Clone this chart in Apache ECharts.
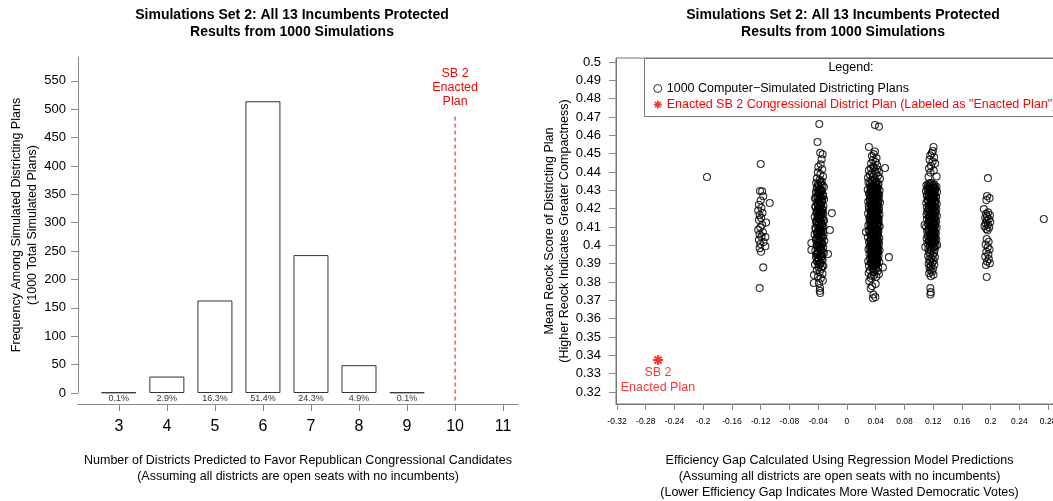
<!DOCTYPE html>
<html>
<head>
<meta charset="utf-8">
<script src="https://cdn.jsdelivr.net/npm/echarts@6/dist/echarts.min.js"></script>
<style>html,body{margin:0;padding:0;background:#fff;}#chart{width:1053px;height:501px;}</style>
</head>
<body>
<div id="chart"></div>
<script>
// ---------- Left panel data ----------
const seatCategories = [3, 4, 5, 6, 7, 8, 9];
const seatCounts = [1, 29, 163, 514, 243, 49, 1];
const totalPlans = 1000;
const seatTicks = [3, 4, 5, 6, 7, 8, 9, 10, 11];
const freqTicks = [0, 50, 100, 150, 200, 250, 300, 350, 400, 450, 500, 550];
const enactedSeats = 10;
const enactedLineSpan = [487, -20];

// ---------- Right panel data ----------
const egTicks = [-0.32, -0.28, -0.24, -0.2, -0.16, -0.12, -0.08, -0.04, 0, 0.04, 0.08, 0.12, 0.16, 0.2, 0.24, 0.28];
const reockTicks = [0.32, 0.33, 0.34, 0.35, 0.36, 0.37, 0.38, 0.39, 0.4, 0.41, 0.42, 0.43, 0.44, 0.45, 0.46, 0.47, 0.48, 0.49, 0.5];
const enactedPoint = [-0.263, 0.3375];

const sims3 = [[-0.1948, 0.4373]];
const sims9 = [[0.274, 0.4144]];
const sims4 = [[-0.1200,0.4444],[-0.1210,0.4297],[-0.1180,0.4295],[-0.1165,0.4268],[-0.1075,0.4231],[-0.1200,0.4245],[-0.1225,0.4222],[-0.1190,0.4205],[-0.1235,0.4190],[-0.1175,0.4178],[-0.1215,0.4165],[-0.1125,0.4125],[-0.1195,0.4150],[-0.1225,0.4138],[-0.1180,0.4112],[-0.1205,0.4098],[-0.1235,0.4085],[-0.1170,0.4072],[-0.1215,0.4060],[-0.1190,0.4048],[-0.1135,0.4046],[-0.1225,0.4030],[-0.1160,0.4018],[-0.1205,0.4008],[-0.1135,0.3995],[-0.1215,0.3985],[-0.1195,0.3965],[-0.1165,0.3880],[-0.1215,0.3767]];
const sims5 = [[-0.0385,0.4662],[-0.0410,0.4564],[-0.0372,0.4505],[-0.0338,0.4497],[-0.0352,0.4470],[-0.0366,0.4442],[-0.0398,0.4428],[-0.0344,0.4415],[-0.0405,0.4398],[-0.0370,0.4388],[-0.0332,0.4376],[-0.0418,0.4366],[-0.0380,0.4357],[-0.0352,0.4349],[-0.0428,0.4340],[-0.0362,0.4333],[-0.0395,0.4325],[-0.0320,0.4318],[-0.0410,0.4310],[-0.0376,0.4303],[-0.0348,0.4296],[-0.0432,0.4289],[-0.0390,0.4282],[-0.0334,0.4276],[-0.0404,0.4270],[-0.0362,0.4263],[-0.0446,0.4257],[-0.0318,0.4251],[-0.0384,0.4245],[-0.0352,0.4239],[-0.0420,0.4233],[-0.0368,0.4227],[-0.0398,0.4221],[-0.0328,0.4215],[-0.0440,0.4209],[-0.0376,0.4204],[-0.0345,0.4199],[-0.0412,0.4193],[-0.0210,0.4176],[-0.0385,0.4188],[-0.0356,0.4183],[-0.0425,0.4178],[-0.0330,0.4172],[-0.0395,0.4167],[-0.0366,0.4162],[-0.0448,0.4156],[-0.0340,0.4151],[-0.0408,0.4146],[-0.0378,0.4141],[-0.0318,0.4136],[-0.0430,0.4131],[-0.0360,0.4126],[-0.0392,0.4121],[-0.0346,0.4116],[-0.0416,0.4111],[-0.0374,0.4106],[-0.0326,0.4101],[-0.0440,0.4096],[-0.0385,0.4091],[-0.0237,0.4084],[-0.0355,0.4086],[-0.0402,0.4080],[-0.0336,0.4075],[-0.0420,0.4070],[-0.0368,0.4065],[-0.0450,0.4060],[-0.0325,0.4055],[-0.0390,0.4050],[-0.0350,0.4045],[-0.0412,0.4040],[-0.0378,0.4035],[-0.0432,0.4030],[-0.0315,0.4025],[-0.0495,0.4013],[-0.0362,0.4020],[-0.0398,0.4014],[-0.0340,0.4008],[-0.0422,0.4002],[-0.0372,0.3996],[-0.0495,0.3975],[-0.0330,0.3990],[-0.0405,0.3984],[-0.0355,0.3978],[-0.0440,0.3972],[-0.0385,0.3966],[-0.0320,0.3960],[-0.0264,0.3953],[-0.0415,0.3954],[-0.0366,0.3948],[-0.0348,0.3941],[-0.0430,0.3934],[-0.0392,0.3927],[-0.0338,0.3920],[-0.0410,0.3912],[-0.0372,0.3904],[-0.0445,0.3896],[-0.0328,0.3888],[-0.0395,0.3880],[-0.0358,0.3872],[-0.0420,0.3864],[-0.0378,0.3855],[-0.0340,0.3846],[-0.0460,0.3838],[-0.0402,0.3830],[-0.0365,0.3820],[-0.0335,0.3808],[-0.0462,0.3795],[-0.0390,0.3795],[-0.0375,0.3768],[-0.0378,0.3752],[-0.0372,0.3740],
[-0.0366,0.4345],[-0.0402,0.4335],[-0.0340,0.4326],[-0.0420,0.4316],[-0.0380,0.4306],[-0.0356,0.4297],[-0.0412,0.4287],[-0.0372,0.4278],[-0.0330,0.4268],[-0.0430,0.4258],[-0.0390,0.4249],[-0.0348,0.4240],[-0.0404,0.4230],[-0.0364,0.4221],[-0.0436,0.4212],[-0.0384,0.4202],[-0.0336,0.4193],[-0.0418,0.4184],[-0.0374,0.4175],[-0.0350,0.4165],[-0.0410,0.4156],[-0.0388,0.4147],[-0.0328,0.4138],[-0.0424,0.4128],[-0.0368,0.4119],[-0.0400,0.4110],[-0.0342,0.4100],[-0.0434,0.4091],[-0.0378,0.4082],[-0.0358,0.4072],[-0.0414,0.4063],[-0.0386,0.4054],[-0.0334,0.4044],[-0.0426,0.4035],[-0.0370,0.4026],[-0.0396,0.4016],[-0.0346,0.4007],[-0.0416,0.3998],[-0.0380,0.3988],[-0.0360,0.3979],[-0.0408,0.3970],[-0.0338,0.3961],[-0.0428,0.3951],[-0.0376,0.3942],[-0.0400,0.3933],[-0.0352,0.3923],[-0.0418,0.3914],[-0.0370,0.3905],[-0.0392,0.3895],[-0.0344,0.3886],
[-0.0358,0.4302],[-0.0396,0.4292],[-0.0374,0.4272],[-0.0410,0.4262],[-0.0344,0.4252],[-0.0388,0.4236],[-0.0360,0.4218],[-0.0404,0.4198],[-0.0350,0.4180],[-0.0392,0.4160],[-0.0366,0.4142],[-0.0420,0.4124],[-0.0354,0.4106],[-0.0384,0.4088],[-0.0406,0.4068],[-0.0362,0.4050],[-0.0396,0.4030],[-0.0348,0.4012],[-0.0388,0.3994],[-0.0366,0.3974],[-0.0408,0.3956],[-0.0356,0.3938],[-0.0390,0.3918],[-0.0370,0.3900]];
const sims6 = [[0.0390,0.4657],[0.0445,0.4648],[0.0306,0.4537],[0.0390,0.4512],[0.0372,0.4498],[0.0348,0.4487],[0.0412,0.4476],[0.0362,0.4466],[0.0398,0.4455],[0.0530,0.4422],[0.0335,0.4446],[0.0420,0.4437],[0.0368,0.4430],
[0.0376,0.4424],[0.0334,0.4419],[0.0418,0.4414],[0.0306,0.4409],[0.0390,0.4404],[0.0446,0.4399],[0.0348,0.4394],[0.0404,0.4389],[0.0320,0.4384],[0.0432,0.4379],[0.0362,0.4374],[0.0293,0.4369],[0.0459,0.4364],[0.0380,0.4359],[0.0340,0.4354],[0.0412,0.4349],[0.0300,0.4344],[0.0395,0.4339],[0.0440,0.4334],[0.0352,0.4329],[0.0408,0.4324],[0.0325,0.4319],[0.0428,0.4314],[0.0366,0.4309],[0.0290,0.4304],[0.0455,0.4299],[0.0384,0.4294],[0.0338,0.4289],[0.0420,0.4284],[0.0310,0.4279],[0.0398,0.4274],[0.0448,0.4269],[0.0356,0.4264],[0.0402,0.4259],[0.0318,0.4254],[0.0436,0.4249],[0.0370,0.4244],[0.0296,0.4239],[0.0460,0.4234],[0.0378,0.4229],[0.0344,0.4224],[0.0414,0.4219],[0.0304,0.4214],[0.0392,0.4209],[0.0442,0.4204],[0.0350,0.4199],[0.0406,0.4194],[0.0328,0.4189],[0.0426,0.4184],[0.0364,0.4179],[0.0294,0.4174],[0.0452,0.4169],[0.0386,0.4164],[0.0336,0.4159],[0.0422,0.4154],[0.0312,0.4149],[0.0396,0.4144],[0.0444,0.4139],[0.0358,0.4134],[0.0400,0.4129],[0.0322,0.4124],[0.0434,0.4119],[0.0372,0.4114],[0.0298,0.4109],[0.0456,0.4104],[0.0382,0.4099],[0.0346,0.4094],[0.0416,0.4089],[0.0302,0.4084],[0.0264,0.4073],[0.0390,0.4079],[0.0438,0.4074],[0.0354,0.4069],[0.0410,0.4064],[0.0326,0.4059],[0.0430,0.4054],[0.0368,0.4049],[0.0292,0.4044],[0.0450,0.4039],[0.0380,0.4034],[0.0342,0.4029],[0.0418,0.4024],[0.0308,0.4019],[0.0394,0.4014],[0.0446,0.4009],[0.0360,0.4004],[0.0404,0.3999],[0.0316,0.3994],[0.0432,0.3989],[0.0374,0.3984],[0.0300,0.3979],[0.0454,0.3974],[0.0388,0.3969],[0.0338,0.3964],[0.0424,0.3959],[0.0314,0.3954],[0.0398,0.3949],[0.0440,0.3944],[0.0584,0.3936],[0.0352,0.3939],[0.0406,0.3934],[0.0324,0.3929],[0.0428,0.3924],[0.0366,0.3919],[0.0296,0.3914],[0.0450,0.3909],[0.0384,0.3904],[0.0344,0.3899],[0.0414,0.3894],[0.0306,0.3889],[0.0501,0.3880],[0.0392,0.3884],[0.0436,0.3879],[0.0356,0.3874],[0.0402,0.3869],[0.0320,0.3864],[0.0426,0.3859],[0.0370,0.3854],[0.0302,0.3849],[0.0446,0.3844],[0.0380,0.3839],[0.0340,0.3834],[0.0410,0.3829],[0.0330,0.3822],
[0.0310,0.3805],[0.0400,0.3790],[0.0350,0.3778],[0.0330,0.3765],[0.0368,0.3732],[0.0395,0.3718],[0.0362,0.3712],
[0.0352,0.4348],[0.0398,0.4343],[0.0320,0.4336],[0.0428,0.4331],[0.0372,0.4326],[0.0340,0.4321],[0.0410,0.4316],[0.0385,0.4311],[0.0330,0.4306],[0.0418,0.4301],[0.0360,0.4296],[0.0395,0.4291],[0.0312,0.4286],[0.0440,0.4281],[0.0368,0.4276],[0.0388,0.4271],[0.0330,0.4266],[0.0424,0.4261],[0.0376,0.4256],[0.0350,0.4251],[0.0414,0.4246],[0.0392,0.4241],[0.0322,0.4236],[0.0432,0.4231],[0.0362,0.4226],[0.0400,0.4221],[0.0338,0.4216],[0.0420,0.4211],[0.0374,0.4206],[0.0310,0.4201],[0.0446,0.4196],[0.0382,0.4191],[0.0346,0.4186],[0.0408,0.4181],[0.0368,0.4176],[0.0330,0.4171],[0.0416,0.4166],[0.0390,0.4161],[0.0356,0.4156],[0.0436,0.4151],[0.0376,0.4146],[0.0318,0.4141],[0.0404,0.4136],[0.0384,0.4131],[0.0342,0.4126],[0.0424,0.4121],[0.0366,0.4116],[0.0398,0.4111],[0.0326,0.4106],[0.0440,0.4101],[0.0372,0.4096],[0.0350,0.4091],[0.0412,0.4086],[0.0388,0.4081],[0.0316,0.4076],[0.0428,0.4071],[0.0362,0.4066],[0.0396,0.4061],[0.0336,0.4056],[0.0420,0.4051],[0.0378,0.4046],[0.0354,0.4041],[0.0406,0.4036],[0.0386,0.4031],[0.0324,0.4026],[0.0438,0.4021],[0.0370,0.4016],[0.0402,0.4011],[0.0340,0.4006],[0.0418,0.4001],[0.0380,0.3996],[0.0346,0.3991],[0.0410,0.3986],[0.0362,0.3981],[0.0328,0.3976],[0.0430,0.3971],[0.0376,0.3966],[0.0398,0.3961],[0.0352,0.3956],[0.0416,0.3951],[0.0370,0.3946],[0.0336,0.3941],[0.0404,0.3936],[0.0384,0.3931],[0.0348,0.3926],[0.0420,0.3921],[0.0374,0.3916],[0.0394,0.3911],[0.0330,0.3906],[0.0412,0.3901],[0.0366,0.3896],[0.0390,0.3891],[0.0356,0.3886],
[0.0358,0.4322],[0.0402,0.4317],[0.0336,0.4312],[0.0424,0.4307],[0.0380,0.4302],[0.0346,0.4297],[0.0412,0.4292],[0.0370,0.4287],[0.0330,0.4282],[0.0434,0.4277],[0.0388,0.4272],[0.0354,0.4267],[0.0418,0.4262],[0.0364,0.4257],[0.0398,0.4252],[0.0326,0.4247],[0.0440,0.4242],[0.0384,0.4237],[0.0348,0.4232],[0.0408,0.4227],[0.0372,0.4222],[0.0334,0.4217],[0.0428,0.4212],[0.0392,0.4207],[0.0358,0.4202],[0.0416,0.4197],[0.0376,0.4192],[0.0342,0.4187],[0.0432,0.4182],[0.0396,0.4177],[0.0352,0.4172],[0.0410,0.4167],[0.0368,0.4162],[0.0328,0.4157],[0.0426,0.4152],[0.0386,0.4147],[0.0344,0.4142],[0.0414,0.4137],[0.0378,0.4132],[0.0338,0.4127],[0.0436,0.4122],[0.0394,0.4117],[0.0356,0.4112],[0.0420,0.4107],[0.0366,0.4102],[0.0404,0.4097],[0.0332,0.4092],[0.0430,0.4087],[0.0382,0.4082],[0.0348,0.4077],[0.0412,0.4072],[0.0374,0.4067],[0.0340,0.4062],[0.0424,0.4057],[0.0390,0.4052],[0.0358,0.4047],[0.0416,0.4042],[0.0370,0.4037],[0.0334,0.4032],[0.0432,0.4027],[0.0398,0.4022],[0.0352,0.4017],[0.0408,0.4012],[0.0378,0.4007],[0.0330,0.4002],[0.0426,0.3997],[0.0388,0.3992],[0.0356,0.3987],[0.0418,0.3982],[0.0364,0.3977],[0.0400,0.3972],[0.0338,0.3967],[0.0434,0.3962],[0.0382,0.3957],[0.0346,0.3952],[0.0410,0.3947],[0.0372,0.3942],[0.0342,0.3937],[0.0422,0.3932],[0.0392,0.3927],[0.0360,0.3922],[0.0406,0.3917],[0.0378,0.3912],[0.0338,0.3907],[0.0414,0.3902],[0.0386,0.3897],[0.0354,0.3892]];
const sims7 = [[0.1205,0.4537],[0.1196,0.4515],[0.1182,0.4503],[0.1160,0.4491],[0.1214,0.4480],[0.1150,0.4467],[0.1192,0.4457],[0.1228,0.4446],[0.1170,0.4434],[0.1142,0.4420],[0.1208,0.4408],[0.1162,0.4397],[0.1248,0.4376],[0.1136,0.4374],
[0.1176,0.4340],[0.1134,0.4336],[0.1218,0.4332],[0.1106,0.4328],[0.1190,0.4324],[0.1246,0.4320],[0.1148,0.4316],[0.1204,0.4312],[0.1120,0.4308],[0.1232,0.4304],[0.1162,0.4300],[0.1100,0.4296],[0.1254,0.4292],[0.1180,0.4287],[0.1140,0.4282],[0.1212,0.4277],[0.1110,0.4272],[0.1195,0.4267],[0.1240,0.4262],[0.1152,0.4257],[0.1208,0.4252],[0.1125,0.4247],[0.1228,0.4242],[0.1166,0.4237],[0.1104,0.4232],[0.1250,0.4227],[0.1184,0.4222],[0.1138,0.4217],[0.1220,0.4212],[0.1112,0.4207],[0.1198,0.4202],[0.1244,0.4197],[0.1156,0.4192],[0.1202,0.4187],[0.1118,0.4182],[0.1236,0.4177],[0.1170,0.4172],[0.1108,0.4167],[0.1252,0.4162],[0.1178,0.4157],[0.1144,0.4152],[0.1214,0.4147],[0.1114,0.4142],[0.1192,0.4137],[0.1242,0.4132],[0.1150,0.4127],[0.1206,0.4122],[0.1128,0.4117],[0.1080,0.4111],[0.1226,0.4112],[0.1164,0.4107],[0.1102,0.4102],[0.1248,0.4097],[0.1186,0.4092],[0.1136,0.4087],[0.1216,0.4082],[0.1116,0.4077],[0.1196,0.4072],[0.1238,0.4067],[0.1158,0.4062],[0.1200,0.4057],[0.1124,0.4052],[0.1230,0.4047],[0.1172,0.4042],[0.1110,0.4037],[0.1244,0.4032],[0.1182,0.4027],[0.1146,0.4022],[0.1210,0.4017],[0.1120,0.4012],[0.1255,0.4002],[0.1188,0.4007],[0.1090,0.3991],[0.1234,0.3997],[0.1154,0.3992],[0.1204,0.3987],[0.1132,0.3982],[0.1222,0.3977],[0.1168,0.3972],[0.1140,0.3966],[0.1212,0.3960],[0.1160,0.3954],[0.1196,0.3948],[0.1130,0.3942],[0.1224,0.3936],[0.1176,0.3930],[0.1146,0.3924],[0.1206,0.3918],[0.1158,0.3912],[0.1190,0.3906],[0.1138,0.3900],[0.1216,0.3894],[0.1170,0.3888],[0.1150,0.3880],[0.1198,0.3872],[0.1162,0.3864],[0.1184,0.3856],[0.1144,0.3848],[0.1204,0.3840],[0.1168,0.3832],
[0.1160,0.3767],[0.1166,0.3745],[0.1162,0.3732],
[0.1162,0.4338],[0.1200,0.4330],[0.1128,0.4322],[0.1226,0.4314],[0.1172,0.4306],[0.1144,0.4298],[0.1210,0.4290],[0.1186,0.4282],[0.1122,0.4274],[0.1236,0.4266],[0.1160,0.4258],[0.1196,0.4250],[0.1134,0.4242],[0.1214,0.4234],[0.1174,0.4226],[0.1150,0.4218],[0.1230,0.4210],[0.1188,0.4202],[0.1130,0.4194],[0.1218,0.4186],[0.1166,0.4178],[0.1200,0.4170],[0.1142,0.4162],[0.1224,0.4154],[0.1180,0.4146],[0.1156,0.4138],[0.1210,0.4130],[0.1190,0.4122],[0.1136,0.4114],[0.1228,0.4106],[0.1168,0.4098],[0.1202,0.4090],[0.1148,0.4082],[0.1220,0.4074],[0.1178,0.4066],[0.1160,0.4058],[0.1212,0.4050],[0.1192,0.4042],[0.1140,0.4034],[0.1226,0.4026],[0.1172,0.4018],[0.1198,0.4010],[0.1152,0.4002],[0.1216,0.3994],[0.1182,0.3986],
[0.1154,0.4326],[0.1206,0.4318],[0.1176,0.4310],[0.1132,0.4302],[0.1222,0.4294],[0.1168,0.4286],[0.1196,0.4278],[0.1144,0.4270],[0.1214,0.4262],[0.1182,0.4254],[0.1126,0.4246],[0.1232,0.4238],[0.1162,0.4230],[0.1192,0.4222],[0.1148,0.4214],[0.1208,0.4206],[0.1178,0.4198],[0.1136,0.4190],[0.1226,0.4182],[0.1170,0.4174],[0.1204,0.4166],[0.1156,0.4158],[0.1218,0.4150],[0.1186,0.4142],[0.1140,0.4134],[0.1230,0.4126],[0.1164,0.4118],[0.1198,0.4110],[0.1152,0.4102],[0.1212,0.4094],[0.1180,0.4086],[0.1134,0.4078],[0.1222,0.4070],[0.1168,0.4062],[0.1194,0.4054],[0.1150,0.4046],[0.1206,0.4038],[0.1184,0.4030],[0.1142,0.4022],[0.1218,0.4014]];
const sims8 = [[0.1962,0.4367],[0.1950,0.4269],[0.1985,0.4258],[0.1940,0.4247],[0.1905,0.4198],[0.1965,0.4180],[0.1935,0.4172],[0.1990,0.4165],[0.1950,0.4158],[0.1925,0.4150],[0.1975,0.4143],[0.1945,0.4135],[0.1995,0.4128],[0.1930,0.4120],[0.1962,0.4112],[0.1915,0.4105],[0.1980,0.4098],[0.1940,0.4090],[0.1958,0.4082],[0.1945,0.4035],[0.1972,0.4020],[0.1930,0.4005],[0.1960,0.3990],[0.1985,0.3978],[0.1940,0.3965],[0.1968,0.3950],[0.1925,0.3938],[0.1975,0.3925],[0.1950,0.3912],[0.1990,0.3903],[0.1935,0.3893],[0.1945,0.3828]];

const simName = '1000 Computer\u2212Simulated Districting Plans';
const enactedName = 'Enacted SB 2 Congressional District Plan (Labeled as "Enacted Plan")';
const titleText = 'Simulations Set 2: All 13 Incumbents Protected\nResults from 1000 Simulations';

const FONT = '"Liberation Sans", Arial, sans-serif';
const AXIS = '#8a8a8a';
const RED = '#ff0000';
const starPath = 'path://M5,0L5,10M0,5L10,5M1.5,1.5L8.5,8.5M1.5,8.5L8.5,1.5';

const fmt = v => String(+Number(v).toFixed(2));

const chart = echarts.init(document.getElementById('chart'), null, {renderer: 'canvas'});
chart.setOption({
  animation: false,
  backgroundColor: '#fff',
  textStyle: {fontFamily: FONT},
  title: [
    {text: titleText, left: 287, top: 2, textAlign: 'center',
     textStyle: {fontFamily: FONT, fontSize: 14, fontWeight: 'bold', lineHeight: 17, color: '#000'}},
    {text: titleText, left: 838, top: 2, textAlign: 'center',
     textStyle: {fontFamily: FONT, fontSize: 14, fontWeight: 'bold', lineHeight: 17, color: '#000'}}
  ],
  grid: [
    {left: 78, top: 57, width: 440, height: 336, show: false, outerBoundsMode: 'none', containLabel: false},
    {left: 616, top: 58, width: 447, height: 346, show: true, borderColor: '#777', borderWidth: 1,
     backgroundColor: 'transparent', outerBoundsMode: 'none', containLabel: false}
  ],
  legend: {
    orient: 'vertical', left: 653, top: 82, padding: 0, itemWidth: 8, itemHeight: 8, itemGap: 3,
    selectedMode: false,
    textStyle: {fontFamily: FONT, fontSize: 12.5, color: '#000'},
    data: [
      {name: simName, icon: 'circle', itemStyle: {color: 'rgba(0,0,0,0)', borderColor: '#000', borderWidth: 1}},
      {name: enactedName, icon: starPath, itemStyle: {color: 'rgba(0,0,0,0)', borderColor: RED, borderWidth: 1.5}, textStyle: {color: RED}}
    ]
  },
  graphic: [
    {type: 'rect', shape: {x: 644.5, y: 58.5, width: 420, height: 58}, style: {fill: 'none', stroke: '#777', lineWidth: 1}, z: 1},
    {type: 'text', x: 851, y: 68, style: {text: 'Legend:', fontFamily: FONT, fontSize: 12.5, fill: '#000', align: 'center', verticalAlign: 'middle'}}
  ],
  xAxis: [
    {gridIndex: 0, type: 'value', min: 2.15, max: 11.31, offset: 11,
     name: 'Number of Districts Predicted to Favor Republican Congressional Candidates\n(Assuming all districts are open seats with no incumbents)',
     nameLocation: 'middle', nameGap: 49,
     nameTextStyle: {fontFamily: FONT, fontSize: 12.5, lineHeight: 16, color: '#000'},
     axisLine: {show: true, onZero: false, lineStyle: {color: AXIS, width: 1}},
     axisTick: {show: true, length: 7, lineStyle: {color: AXIS}, customValues: seatTicks},
     axisLabel: {show: true, margin: 15, fontSize: 16, color: '#000', fontFamily: FONT, customValues: seatTicks},
     splitLine: {show: false}},
    {gridIndex: 1, type: 'value', min: -0.3214, max: 0.3007,
     name: 'Efficiency Gap Calculated Using Regression Model Predictions\n(Assuming all districts are open seats with no incumbents)\n(Lower Efficiency Gap Indicates More Wasted Democratic Votes)',
     nameLocation: 'middle', nameGap: 49,
     nameTextStyle: {fontFamily: FONT, fontSize: 12.5, lineHeight: 16, color: '#000'},
     axisLine: {show: true, onZero: false, lineStyle: {color: '#777', width: 1}},
     axisTick: {show: true, length: 6, lineStyle: {color: AXIS}, customValues: egTicks},
     axisLabel: {show: true, margin: 13, fontSize: 8.5, color: '#000', fontFamily: FONT, customValues: egTicks, formatter: fmt},
     splitLine: {show: false}}
  ],
  yAxis: [
    {gridIndex: 0, type: 'value', min: 0, max: 592,
     name: 'Frequency Among Simulated Districting Plans\n(1000 Total Simulated Plans)',
     nameLocation: 'middle', nameRotate: 90, nameGap: 36,
     nameTextStyle: {fontFamily: FONT, fontSize: 12.5, lineHeight: 16, color: '#000'},
     axisLine: {show: true, onZero: false, lineStyle: {color: AXIS, width: 1}},
     axisTick: {show: true, length: 7, lineStyle: {color: AXIS}, customValues: freqTicks},
     axisLabel: {show: true, margin: 12, fontSize: 13, color: '#000', fontFamily: FONT, customValues: freqTicks},
     splitLine: {show: false}},
    {gridIndex: 1, type: 'value', min: 0.3135, max: 0.5022,
     name: 'Mean Reock Score of Districting Plan\n(Higher Reock Indicates Greater Compactness)',
     nameLocation: 'middle', nameRotate: 90, nameGap: 43,
     nameTextStyle: {fontFamily: FONT, fontSize: 12.5, lineHeight: 15, color: '#000'},
     axisLine: {show: true, onZero: false, lineStyle: {color: '#777', width: 1}},
     axisTick: {show: true, length: 7, lineStyle: {color: AXIS}, customValues: reockTicks},
     axisLabel: {show: true, margin: 15, fontSize: 13, color: '#000', fontFamily: FONT, customValues: reockTicks, formatter: fmt},
     splitLine: {show: false}}
  ],
  series: [
    {type: 'bar', name: 'Simulated seat counts', xAxisIndex: 0, yAxisIndex: 0, barWidth: 35,
     data: seatCategories.map((s, i) => [s, seatCounts[i]]),
     itemStyle: {color: '#fff', borderColor: '#333', borderWidth: 1},
     label: {show: true, position: 'bottom', distance: 1, fontSize: 9, color: '#333', fontFamily: FONT,
             formatter: p => (p.value[1] / totalPlans * 100).toFixed(1) + '%'}},
    {type: 'line', name: 'Enacted seats', xAxisIndex: 0, yAxisIndex: 0, clip: false,
     symbol: 'circle', symbolSize: 1, showSymbol: true,
     itemStyle: {color: 'rgba(0,0,0,0)'},
     lineStyle: {color: RED, width: 1, type: [4, 3]},
     data: [
       {value: [enactedSeats, enactedLineSpan[0]],
        label: {show: true, position: 'top', distance: 8, formatter: 'SB 2\nEnacted\nPlan', fontSize: 12.5, lineHeight: 14, color: RED, fontFamily: FONT}},
       {value: [enactedSeats, enactedLineSpan[1]]}
     ]},
    {type: 'scatter', name: simName, xAxisIndex: 1, yAxisIndex: 1, symbol: 'circle', symbolSize: 7,
     itemStyle: {color: 'rgba(0,0,0,0)', borderColor: '#000', borderWidth: 1.1},
     data: [].concat(sims3, sims4, sims5, sims6, sims7, sims8, sims9)},
    {type: 'scatter', name: enactedName, xAxisIndex: 1, yAxisIndex: 1, symbol: starPath, symbolSize: 10,
     itemStyle: {color: 'rgba(0,0,0,0)', borderColor: RED, borderWidth: 2},
     label: {show: true, position: 'bottom', distance: -1, formatter: 'SB 2\nEnacted Plan', fontSize: 12.5, lineHeight: 15, color: RED, fontFamily: FONT},
     data: [enactedPoint]}
  ]
});
</script>
</body>
</html>
